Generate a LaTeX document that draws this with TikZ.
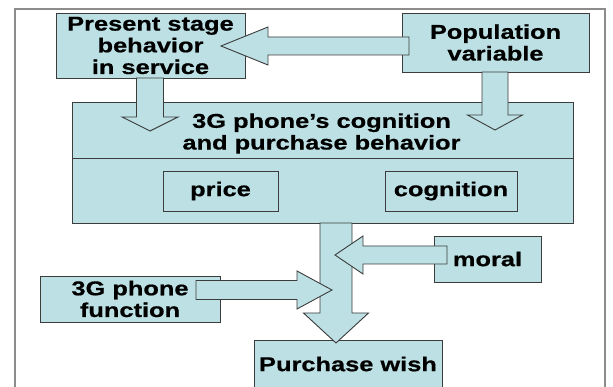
\documentclass[tikz,border=0pt]{standalone}
\usepackage{fontspec}
\usetikzlibrary{calc}
\newfontfamily\lblfont{Liberation Sans}[FakeStretch=1.27, FakeBold=0.6]
\definecolor{boxfill}{RGB}{188,224,227}
\definecolor{boxedge}{RGB}{60,60,60}
\definecolor{framegray}{RGB}{140,140,140}

% block arrow: tail, tip, shaft half-width, head half-width, head length (pt)
\newcommand\blockarrow[5]{%
  \coordinate (headbase) at ($(#2)!#5pt!(#1)$);
  \draw[arrowbody]
    ($(#1)!#3pt!90:(#2)$) -- ($(headbase)!#3pt!90:(#2)$) --
    ($(headbase)!#4pt!90:(#2)$) -- (#2) --
    ($(headbase)!#4pt!-90:(#2)$) -- ($(headbase)!#3pt!-90:(#2)$) --
    ($(#1)!#3pt!-90:(#2)$) -- cycle;
}

\tikzset{
  box/.style={draw=boxedge, fill=boxfill, line width=0.9pt, rectangle,
    inner sep=0pt, align=center,
    font=\lblfont\bfseries\fontsize{20}{21.7}\selectfont},
  innerbox/.style={box},
  boxline/.style={draw=boxedge, line width=0.9pt},
  arrowbody/.style={draw=boxedge, fill=boxfill, line width=0.9pt, line join=miter},
  label/.style={inner sep=0pt, align=center,
    font=\lblfont\bfseries\fontsize{20}{21.7}\selectfont},
}

\begin{document}
\begin{tikzpicture}[x=1pt, y=-1pt]
  \useasboundingbox (0,0) rectangle (613,387);
  \fill[white] (0,0) rectangle (613,387);

  % outer frame
  \draw[framegray, line width=1.4pt] (15,400) -- (15,9) -- (605,9) -- (605,400);

  % boxes
  \node[box, minimum width=189pt, minimum height=65pt] (present) at (150.5,45.5)
    {Present stage\\behavior\\in service};
  \node[box, minimum width=187pt, minimum height=59pt] (pop) at (495.5,42.5)
    {Population\\variable};
  \node[box, minimum width=501pt, minimum height=121pt] (big) at (322.5,162.5) {};
  \draw[boxline] ([yshift=-57pt]big.north west) -- ([yshift=-57pt]big.north east);
  \node[label] (bigtitle) at (321.5,133.5) {3G phone’s cognition\\and purchase behavior};
  \node[innerbox, minimum width=115pt, minimum height=40pt] (price) at (220.5,191) {price};
  \node[innerbox, minimum width=132pt, minimum height=40pt] (cogn) at (451,191) {cognition};
  \node[box, minimum width=107pt, minimum height=46pt] (moral) at (487.5,259) {moral};
  \node[box, minimum width=180pt, minimum height=46pt] (func) at (130,299)
    {3G phone\\function};
  \node[box, minimum width=188pt, minimum height=54pt] (wish) at (348,367) {};
  \node[label] (wishtext) at (348,364) {Purchase wish};

  % arrow end points
  \coordinate (popTail) at (409,46);
  \coordinate (popTip) at (221,46);
  \coordinate (presTail) at (150,78);
  \coordinate (presTip) at (150,131);
  \coordinate (popDownTail) at (495,72);
  \coordinate (popDownTip) at (495,130);
  \coordinate (bigTail) at (336,223);
  \coordinate (bigTip) at (336,343);
  \coordinate (moralTail) at (447,255);
  \coordinate (moralTip) at (335,255);
  \coordinate (funcTail) at (196,290);
  \coordinate (funcTip) at (332,290);

  % block arrows
  \blockarrow{popTail}{popTip}{9}{19}{47}
  \blockarrow{presTail}{presTip}{13.5}{28}{14}
  \blockarrow{popDownTail}{popDownTip}{13}{27.5}{15}
  \blockarrow{bigTail}{bigTip}{16}{32.5}{30}
  \blockarrow{moralTail}{moralTip}{9}{19}{28}
  \blockarrow{funcTail}{funcTip}{9.5}{19}{35}
\end{tikzpicture}
\end{document}
